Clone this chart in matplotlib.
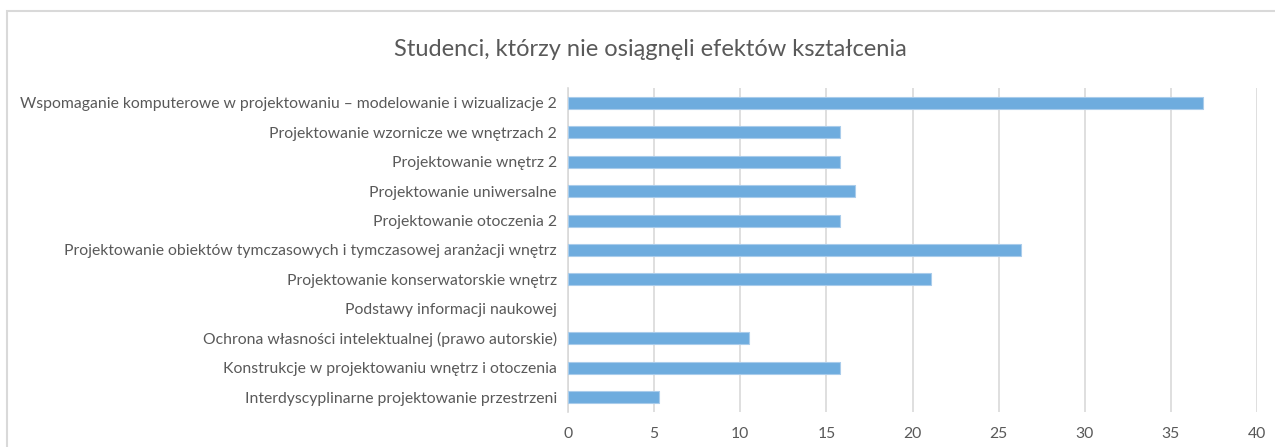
#!/usr/bin/env python3

import matplotlib.pyplot as plt
from matplotlib.patches import Rectangle


courses = [
    'Wspomaganie komputerowe w projektowaniu – modelowanie i wizualizacje 2',
    'Projektowanie wzornicze we wnętrzach 2',
    'Projektowanie wnętrz 2',
    'Projektowanie uniwersalne',
    'Projektowanie otoczenia 2',
    'Projektowanie obiektów tymczasowych i tymczasowej aranżacji wnętrz',
    'Projektowanie konserwatorskie wnętrz',
    'Podstawy informacji naukowej',
    'Ochrona własności intelektualnej (prawo autorskie)',
    'Konstrukcje w projektowaniu wnętrz i otoczenia',
    'Interdyscyplinarne projektowanie przestrzeni',
]
percent = [36.84, 15.79, 15.79, 16.67, 15.79, 26.32, 21.05, 0, 10.53, 15.79, 5.26]
xticks = [0, 5, 10, 15, 20, 25, 30, 35, 40]

plt.rcParams['font.family'] = ['Lato', 'DejaVu Sans']
txt = '#595959'
grid = '#D9D9D9'

fig = plt.figure(figsize=(12.75, 4.47), dpi=100)
ax = fig.add_axes([568/1275, 1 - 412/447, 689/1275, 324/447])

# outer chart frame (only top and left visible in the crop)
fig.patches.append(Rectangle((7/1275, -0.5), 2.0, 1 - 11/447 + 0.5,
                             transform=fig.transFigure, fill=False,
                             edgecolor=grid, linewidth=1.5))

pos = list(range(len(courses)))[::-1]
lw = [0.8 if v > 0 else 0 for v in percent]
ax.barh(pos, percent, height=0.41, color='#6EACDE', edgecolor='#A9CCEB', linewidth=lw, zorder=3)

ax.set_xlim(0, 40)
ax.set_ylim(-0.5, len(courses) - 0.5)
ax.set_xticks(xticks)
ax.set_yticks(pos)
ax.set_yticklabels(courses)
ax.xaxis.grid(True, color=grid, linewidth=1.2)
ax.set_axisbelow(True)
ax.tick_params(axis='both', length=0, colors=txt, labelsize=11.3)
ax.tick_params(axis='x', pad=11)
ax.tick_params(axis='y', pad=8)
for s in ['top', 'right', 'bottom']:
    ax.spines[s].set_visible(False)
ax.spines['left'].set_color(grid)
ax.spines['left'].set_linewidth(1.2)

fig.text(0.51, 1 - 49/447, 'Studenci, którzy nie osiągnęli efektów kształcenia',
         ha='center', va='center', fontsize=17, color=txt)

fig.savefig('out.png', dpi=100)
